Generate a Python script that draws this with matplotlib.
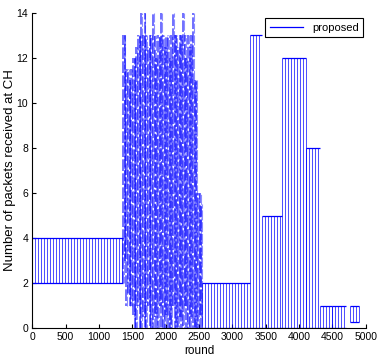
import numpy as np
import matplotlib
matplotlib.use("Agg")
import matplotlib.pyplot as plt
from matplotlib.lines import Line2D

plt.rcParams["font.family"] = ["Liberation Sans", "DejaVu Sans"]

LINE_COLOR = "#0000ff"

# steady phases: the count flips between a low and a high value every round
comb_start = [0, 2550, 3265, 3440, 3740, 4105, 4315, 4500, 4760]
comb_end = [1360, 3265, 3440, 3740, 4105, 4315, 4500, 4700, 4900]
comb_low = [2, 0, 0, 0, 0, 0, 0, 0, 0.3]
comb_high = [4, 2, 13, 5, 12, 8, 1, 1, 1]

# unstable phase around rounds 1360-2550, one stroke every 25 rounds
burst_rounds = [1360, 1385, 1410, 1435, 1460, 1485, 1510, 1535, 1560, 1585,
                1610, 1635, 1660, 1685, 1710, 1735, 1760, 1785, 1810, 1835,
                1860, 1885, 1910, 1935, 1960, 1985, 2010, 2035, 2060, 2085,
                2110, 2135, 2160, 2185, 2210, 2235, 2260, 2285, 2310, 2335,
                2360, 2385, 2410, 2435, 2460, 2485, 2510, 2535]
burst_high = [13, 13, 11.5, 11.5, 11, 11.5, 12, 12, 12.5, 13,
              13, 14, 13, 14, 13, 12.5, 13, 13, 14, 13,
              12, 13, 13, 14, 13, 12.5, 13, 13, 12, 13,
              14, 13, 13, 12.5, 13, 13, 14, 13, 12, 13,
              12.5, 13, 14, 11, 11, 6, 6, 5.5]
burst_low = [2, 3, 1, 1.5, 1, 1, 0.5, 0, 0, 1,
             0, 0, 0.5, 0, 0, 1, 0, 0, 0, 0.5,
             0, 0, 1, 0, 0, 0, 0.5, 0, 0, 0,
             1, 0, 0, 0, 0.5, 0, 0, 1, 0, 0,
             0, 0.5, 0, 0, 0, 0, 0.5, 0]

x_ticks = [0, 500, 1000, 1500, 2000, 2500, 3000, 3500, 4000, 4500, 5000]
y_ticks = [0, 2, 4, 6, 8, 10, 12, 14]


def draw_comb(ax, start, end, low, high, step=45):
    xs = np.arange(start, end + 1, step)
    ax.vlines(xs, low, high, colors=LINE_COLOR, linewidth=0.7, alpha=0.7)
    ax.hlines([low, high], start, end, colors=LINE_COLOR, linewidth=0.9)


def main():
    fig = plt.figure(figsize=(3.77, 3.56), dpi=100)
    ax = fig.add_axes([0.0857, 0.0778, 0.8846, 0.8865])

    for s, e, lo, hi in zip(comb_start, comb_end, comb_low, comb_high):
        draw_comb(ax, s, e, lo, hi)

    # dash offsets vary per stroke to mimic the broken look of the original
    styles = [((k * 2.7) % 9, (7, 1.4)) for k in range(len(burst_rounds))]
    ax.vlines(burst_rounds, burst_low, burst_high, colors=LINE_COLOR,
              linewidth=1.2, alpha=0.65, linestyles=styles)
    shifted = [r + 12 for r in burst_rounds]
    styles2 = [((k * 4.1 + 3) % 11, (9, 1.6)) for k in range(len(burst_rounds))]
    ax.vlines(shifted, burst_low, burst_high, colors=LINE_COLOR,
              linewidth=0.8, alpha=0.45, linestyles=styles2)

    ax.set_xlim(0, 5000)
    ax.set_ylim(0, 14)
    ax.set_xticks(x_ticks)
    ax.set_yticks(y_ticks)
    ax.tick_params(direction="in", length=3, labelsize=7.5, pad=3)
    ax.spines["top"].set_visible(False)
    ax.spines["right"].set_visible(False)

    ax.set_ylabel("Number of packets received at CH", fontsize=9.5)
    ax.yaxis.set_label_coords(-0.05, 0.5)
    ax.set_xlabel("round", fontsize=8.5, va="top")
    ax.xaxis.set_label_coords(0.5, -0.053)

    handle = Line2D([], [], color=LINE_COLOR, linewidth=0.9)
    leg = ax.legend([handle], ["proposed"], loc="upper right",
                    bbox_to_anchor=(0.992, 0.983), borderaxespad=0,
                    fancybox=False, edgecolor="black", fontsize=8,
                    handlelength=3, framealpha=1)
    leg.get_frame().set_linewidth(0.8)

    fig.savefig("out.png", dpi=100)
    plt.close(fig)


if __name__ == "__main__":
    main()
